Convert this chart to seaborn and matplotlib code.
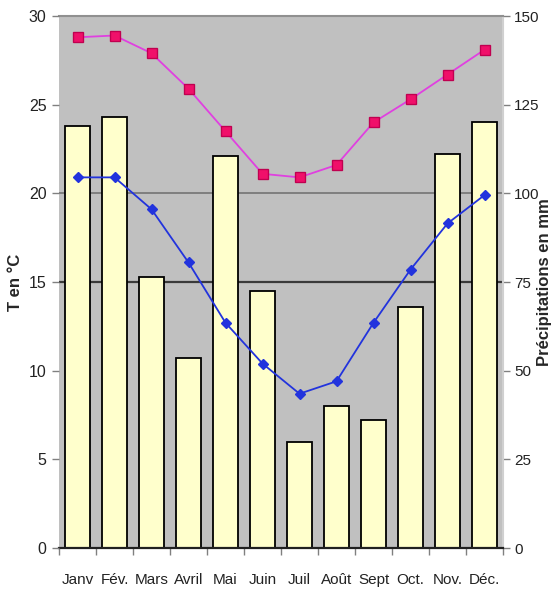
import matplotlib
matplotlib.use("Agg")
import matplotlib.pyplot as plt
import seaborn as sns
import numpy as np

months = ["Janv", "Fév.", "Mars", "Avril", "Mai", "Juin", "Juil", "Août", "Sept", "Oct.", "Nov.", "Déc."]
precip = [119, 121.5, 76.5, 53.5, 110.5, 72.5, 30, 40, 36, 68, 111, 120]
tmax = [28.8, 28.9, 27.9, 25.9, 23.5, 21.1, 20.9, 21.6, 24.0, 25.3, 26.7, 28.1]
tmin = [20.9, 20.9, 19.1, 16.1, 12.7, 10.4, 8.7, 9.4, 12.7, 15.7, 18.3, 19.9]
temp_ticks = [0, 5, 10, 15, 20, 25, 30]
precip_ticks = [0, 25, 50, 75, 100, 125, 150]

sns.set_theme(style="white")
plt.rcParams['font.family'] = ['Liberation Sans', 'DejaVu Sans']

fig = plt.figure(figsize=(5.55, 5.96), dpi=100)
ax2 = fig.add_axes([59/555, 48/596, 444/555, 532/596])  # precipitation (bars)
ax = fig.add_axes(ax2.get_position(), sharex=ax2)       # temperatures (lines)

# bars on ax2 (right axis), background gray
ax2.set_facecolor("#C0C0C0")
for y, c, lw in [(100, "#7a7a7a", 1.3), (75, "#3a3a3a", 1.6)]:
    ax2.axhline(y, color=c, lw=lw, zorder=0.5)
sns.barplot(x=months, y=precip, ax=ax2, color="#FFFFCC", edgecolor="black",
            linewidth=1.3, width=0.65, saturation=1, zorder=2)
ax2.set_ylim(0, 150)
ax2.yaxis.tick_right()
ax2.yaxis.set_label_position("right")
ax2.set_yticks(precip_ticks)
ax2.set_ylabel("Précipitations en mm", fontsize=12, fontweight="bold")
ax2.yaxis.set_label_coords((537 - 59) / 444, 0.5)

# temperatures on ax (left axis), transparent
ax.patch.set_visible(False)
sns.pointplot(x=months, y=tmax, ax=ax, color="#E040E0", marker="s", markersize=6.5,
              markerfacecolor="#F0106A", markeredgecolor="#C00050", linewidth=1.3)
sns.pointplot(x=months, y=tmin, ax=ax, color="#2233DD", marker="D", markersize=5.5,
              linewidth=1.3)
ax.set_ylim(0, 30)
ax.set_yticks(temp_ticks)
ax.yaxis.tick_left()
ax.yaxis.set_label_position("left")
ax.set_ylabel("T en °C", fontsize=12, fontweight="bold")
ax.yaxis.set_label_coords((23 - 59) / 444, 0.5)
ax.set_xlim(-0.5, 11.5)
ax.set_xlabel("")
ax2.set_xlabel("")

for a in (ax, ax2):
    for s in a.spines.values():
        s.set_visible(False)
ax2.spines["bottom"].set_visible(True)
ax2.spines["bottom"].set_color("#202020")
ax2.spines["bottom"].set_linewidth(1.6)
ax2.spines["top"].set_visible(True)
ax2.spines["top"].set_color("#909090")
ax2.spines["top"].set_linewidth(1.5)
ax2.spines["right"].set_visible(True)
ax2.spines["right"].set_color("#d0d0d0")
ax2.spines["right"].set_linewidth(1.5)

ax.tick_params(axis="y", left=True, length=5, width=1, color="#808080", labelsize=11.5, pad=4, labelcolor="#222222")
ax2.tick_params(axis="y", right=True, length=5, width=1, color="#808080", labelsize=11, pad=3, labelcolor="#222222")
ax.tick_params(axis="x", bottom=False, labelbottom=False)
ax2.set_xticks(range(12))
ax2.set_xticklabels(months)
ax2.set_xticks(np.arange(-0.5, 12, 1), minor=True)
ax2.tick_params(axis="x", which="major", bottom=False, labelsize=11, pad=12, labelcolor="#222222")
ax2.tick_params(axis="x", which="minor", bottom=True, length=5, width=1, color="#808080")

fig.savefig("out.png", dpi=100)
